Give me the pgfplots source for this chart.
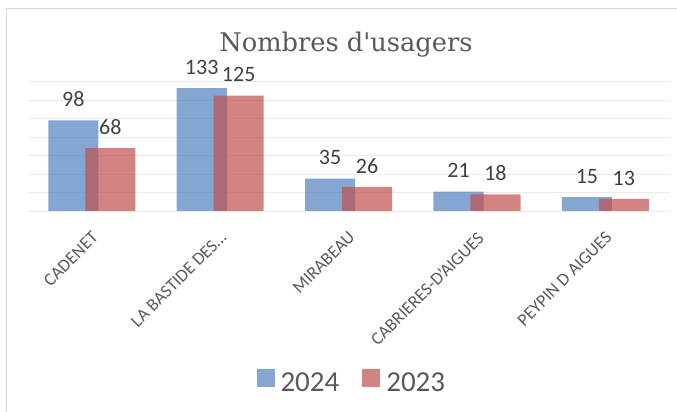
\documentclass[border=0pt]{standalone}
\usepackage{fontspec}
\setmainfont{Carlito}
\newfontfamily\titlefont{DejaVu Serif}
\usepackage{pgfplots}
\pgfplotsset{compat=1.18}
\definecolor{cblue}{HTML}{4F81BD}
\definecolor{cred}{HTML}{C0504D}
\definecolor{txt}{HTML}{595959}
\definecolor{lbl}{HTML}{404040}
\definecolor{gridc}{HTML}{EAEAEA}
\definecolor{axc}{HTML}{BFBFBF}
\definecolor{framec}{HTML}{D9D9D9}
\begin{document}
\begin{tikzpicture}[x=1pt,y=1pt]
\path[use as bounding box] (0,0) rectangle (677,412);
\draw[framec, line width=1pt] (6.5,0) -- (6.5,403) -- (677,403);
\begin{axis}[
  at={(27.6pt,201pt)}, anchor=south west,
  scale only axis, width=642pt, height=129.3pt,
  xmin=-0.5, xmax=4.5, ymin=0, ymax=140,
  /pgf/number format/assume math mode=true,
  xtick={0,1,2,3,4},
  xticklabels={CADENET, LA BASTIDE DES…, MIRABEAU, CABRIERES-D'AIGUES, PEYPIN D AIGUES},
  ytick={20,40,60,80,100,120,140}, yticklabels={},
  ymajorgrids, major grid style={gridc, line width=0.8pt},
  extra y ticks={0}, extra y tick labels={},
  extra y tick style={grid style={axc, line width=1.8pt}},
  axis line style={draw=none},
  tick style={draw=none},
  xticklabel style={yshift=-15pt, xshift=-1pt, rotate=45, anchor=north east, inner sep=0pt,
    font=\fontsize{17.8}{19}\selectfont, text=txt},
  ybar, bar width=0.39,
  nodes near coords,
  every node near coord/.append style={anchor=center, yshift=21pt,
    font=\fontsize{22}{24}\selectfont, text=lbl, fill opacity=1, text opacity=1},
  legend columns=2,
  legend style={at={(0.505,-1.322)}, anchor=center, draw=none, fill=none,
    font=\fontsize{29}{32}\selectfont, text=txt,
    /tikz/every even column/.append style={column sep=21pt}},
  legend image code/.code={\fill[#1] (0pt,-4.8pt) rectangle (18pt,13.2pt); \path (22pt,0pt);},
  clip=false,
]
\addplot[fill=cblue, fill opacity=0.7, draw=none, bar shift=-0.144]
  coordinates {(0,98) (1,133) (2,35) (3,21) (4,15)};
\addlegendentry{2024}
\addplot[fill=cred, fill opacity=0.7, draw=none, bar shift=0.144]
  coordinates {(0,68) (1,125) (2,26) (3,18) (4,13)};
\addlegendentry{2023}
\end{axis}
\node[anchor=base, font=\titlefont\fontsize{25.7}{28}\selectfont, text=txt] at (346,360) {Nombres d'usagers};
\end{tikzpicture}
\end{document}
